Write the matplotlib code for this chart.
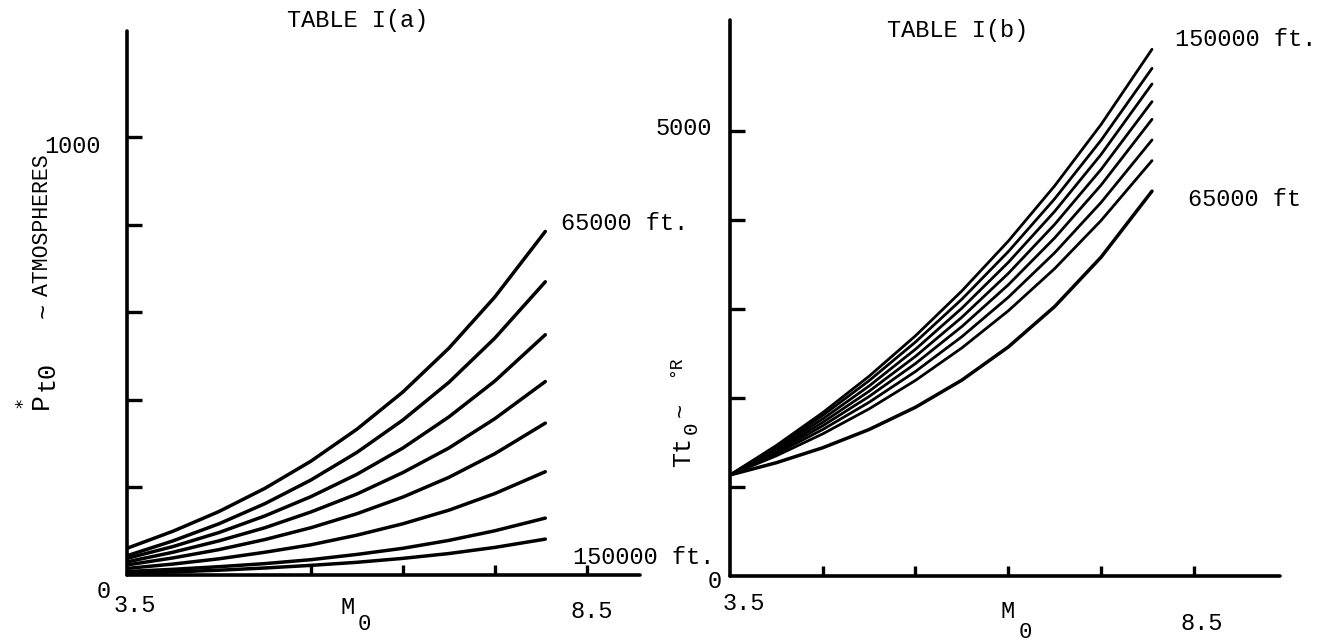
import matplotlib
matplotlib.use("Agg")
import matplotlib.pyplot as plt

plt.rcParams['font.family'] = ['Liberation Mono', 'DejaVu Sans Mono']

W, H = 1328, 644

mach = [3.5, 4.0, 4.5, 5.0, 5.5, 6.0, 6.5, 7.0, 7.5, 8.05]

# TABLE I(a): stagnation pressure, atmospheres (65000 ft at top -> 150000 ft at bottom)
p_65000 = [61, 100, 145, 198, 260, 333, 418, 518, 635, 785]
p_alt2 = [44, 78, 117, 163, 217, 280, 354, 440, 541, 670]
p_alt3 = [38, 65, 97, 135, 179, 230, 290, 361, 443, 549]
p_alt4 = [30, 52, 78, 108, 144, 185, 234, 290, 357, 442]
p_alt5 = [23, 39, 58, 81, 108, 140, 178, 223, 277, 347]
p_alt6 = [15, 25, 37, 52, 69, 91, 117, 148, 186, 236]
p_alt7 = [8, 13, 19, 26, 35, 47, 61, 79, 101, 130]
p_150000 = [4, 7, 11, 16, 22, 29, 38, 49, 63, 82]
pressure = [p_65000, p_alt2, p_alt3, p_alt4, p_alt5, p_alt6, p_alt7, p_150000]

# TABLE I(b): stagnation temperature, deg R (65000 ft at bottom -> 150000 ft at top)
t_65000 = [1135, 1273, 1441, 1646, 1896, 2201, 2573, 3027, 3581, 4324]
t_alt2 = [1135, 1351, 1597, 1878, 2198, 2563, 2979, 3453, 3993, 4667]
t_alt3 = [1135, 1375, 1646, 1952, 2298, 2689, 3131, 3631, 4196, 4899]
t_alt4 = [1135, 1395, 1688, 2017, 2387, 2803, 3271, 3798, 4391, 5131]
t_alt5 = [1135, 1414, 1726, 2076, 2468, 2907, 3399, 3950, 4567, 5330]
t_alt6 = [1135, 1433, 1765, 2135, 2548, 3009, 3523, 4096, 4735, 5528]
t_alt7 = [1135, 1452, 1804, 2195, 2629, 3110, 3644, 4237, 4895, 5704]
t_150000 = [1135, 1467, 1836, 2245, 2699, 3203, 3762, 4383, 5072, 5918]
temperature = [t_65000, t_alt2, t_alt3, t_alt4, t_alt5, t_alt6, t_alt7, t_150000]

p_ticks = [200, 400, 600, 800, 1000]
t_ticks = [1000, 2000, 3000, 4000, 5000]
m_ticks_a = [5.5, 6.5, 7.5, 8.5]
m_ticks_b = [4.5, 5.5, 6.5, 7.5, 8.5]


def fx(x):
    return x / W


def fy(y):
    return 1 - y / H


def style_axes(ax, yticks, xticks):
    for s in ['top', 'right']:
        ax.spines[s].set_visible(False)
    for s in ['left', 'bottom']:
        ax.spines[s].set_linewidth(2.6)
        ax.spines[s].set_capstyle('round')
    ax.set_yticks(yticks)
    ax.set_xticks(xticks)
    ax.tick_params(axis='y', direction='in', length=11, width=2.4,
                   labelleft=False)
    ax.tick_params(axis='x', direction='in', length=7, width=2.4,
                   labelbottom=False)
    ax.set_facecolor('none')


def label(ax, txt, xy, off, size=17):
    ax.annotate(txt, xy=xy, xytext=off, textcoords='offset pixels',
                ha='center', va='center', fontsize=size, annotation_clip=False)


fig = plt.figure(figsize=(W / 100, H / 100), dpi=100)

# ---- TABLE I(a)
axa = fig.add_axes([fx(127), fy(575), fx(640) - fx(127), fy(31) - fy(575)])
axa.set_xlim(3.5, 9.08)
axa.set_ylim(0, 1243)
style_axes(axa, p_ticks, m_ticks_a)
for curve in pressure:
    axa.plot(mach, curve, color='black', lw=2.5, solid_capstyle='round',
             solid_joinstyle='round')

label(axa, '1000', (3.5, 1000), (-54, -9))
label(axa, '0', (3.5, 0), (-23, -16))
label(axa, '3.5', (3.5, 0), (8, -31))
label(axa, '8.5', (8.5, 0), (5, -36))

fig.text(fx(358), fy(21), 'TABLE I(a)', ha='center', va='center', fontsize=17)
fig.text(fx(561), fy(224), '65000 ft.', ha='left', va='center', fontsize=17)
fig.text(fx(573), fy(557), '150000 ft.', ha='left', va='center', fontsize=17)
fig.text(fx(348), fy(608), 'M', ha='center', va='center', fontsize=17)
fig.text(fx(364), fy(625), '0', ha='center', va='center', fontsize=16)

# rotated y label: P*t0 ~ ATMOSPHERES
fig.text(fx(36), fy(404), r'$\overset{*}{\mathregular{P}}$', rotation=90,
         ha='center', va='center', fontsize=19)
fig.text(fx(47), fy(376), 't0', rotation=90, ha='center', va='center', fontsize=18)
fig.text(fx(44), fy(310), '~', rotation=90, ha='center', va='center', fontsize=18)
fig.text(fx(43), fy(225), 'ATMOSPHERES', rotation=90, ha='center', va='center',
         fontsize=15.5)

# ---- TABLE I(b)
axb = fig.add_axes([fx(730), fy(576), fx(1280) - fx(730), fy(20) - fy(576)])
axb.set_xlim(3.5, 9.43)
axb.set_ylim(0, 6247)
style_axes(axb, t_ticks, m_ticks_b)
for i, curve in enumerate(temperature):
    axb.plot(mach, curve, color='black', lw=2.5 if i == 0 else 2.0,
             solid_capstyle='round', solid_joinstyle='round')

label(axb, '5000', (3.5, 5000), (-46, 2))
label(axb, '0', (3.5, 0), (-15, -6))
label(axb, '3.5', (3.5, 0), (14, -28))
label(axb, '8.5', (8.5, 0), (8, -48))

fig.text(fx(958), fy(31), 'TABLE I(b)', ha='center', va='center', fontsize=17)
fig.text(fx(1175), fy(39), '150000 ft.', ha='left', va='center', fontsize=17)
fig.text(fx(1188), fy(200), '65000 ft', ha='left', va='center', fontsize=17)
fig.text(fx(1008), fy(612), 'M', ha='center', va='center', fontsize=17)
fig.text(fx(1025), fy(632), '0', ha='center', va='center', fontsize=16)

# rotated y label: Tt0 ~ oR
fig.text(fx(683), fy(452), 'Tt', rotation=90, ha='center', va='center', fontsize=18)
fig.text(fx(691), fy(428), '0', rotation=90, ha='center', va='center', fontsize=15)
fig.text(fx(681), fy(410), '~', rotation=90, ha='center', va='center', fontsize=17)
fig.text(fx(676), fy(366), '\u00b0R', rotation=90, ha='center', va='center',
         fontsize=13)

fig.savefig('out.png', dpi=100)
